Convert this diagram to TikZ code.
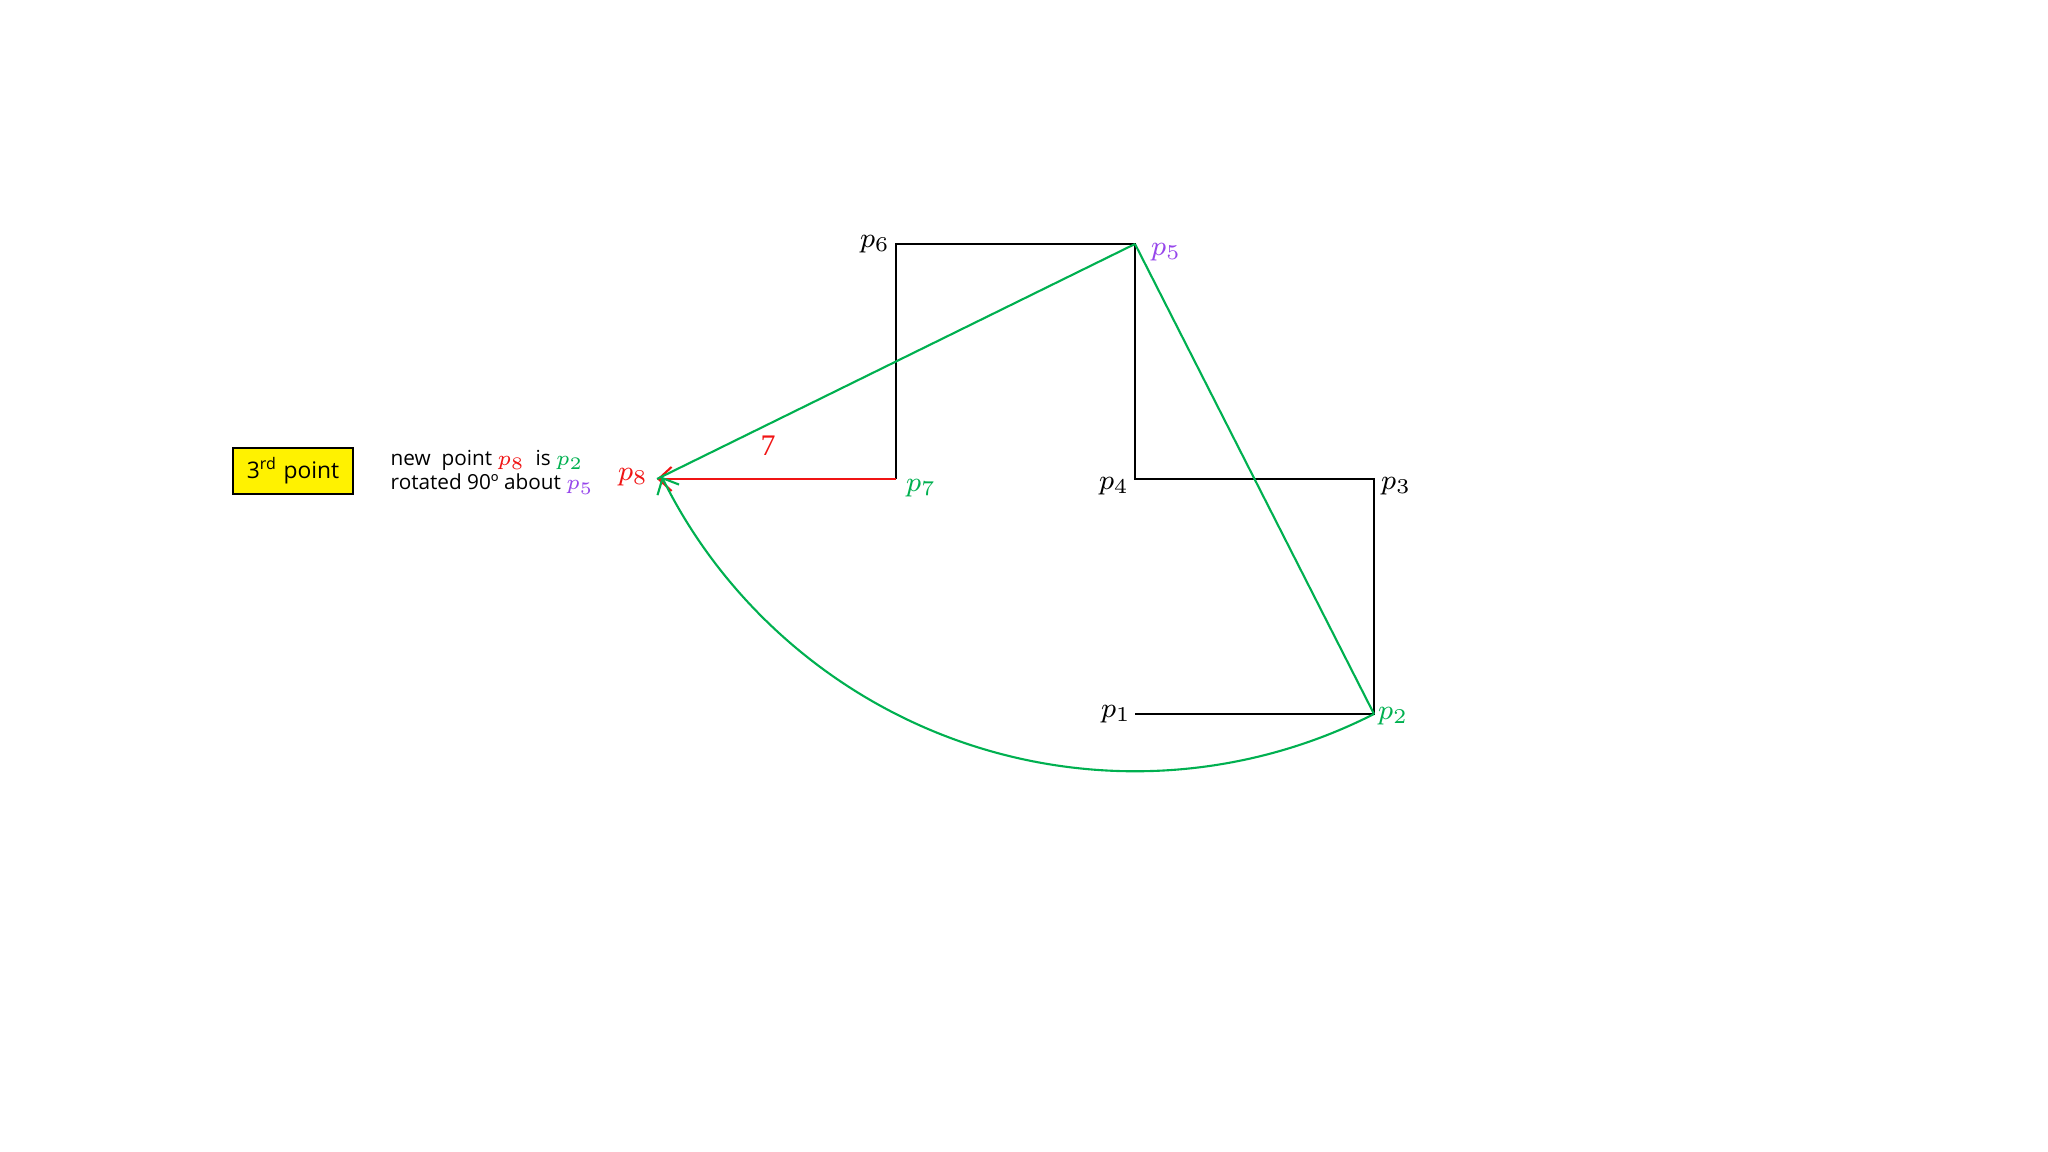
\documentclass[tikz,border=0pt]{standalone}
\usepackage{fontspec}
\setmainfont{Open Sans}
\newfontfamily\numfont{Liberation Serif}
\usepackage{amsmath}
\usepackage{xcolor}
\usetikzlibrary{arrows.meta}
\definecolor{pgreen}{RGB}{0,176,80}
\definecolor{ppurple}{RGB}{150,70,235}
\definecolor{pred}{RGB}{240,20,20}
\tikzset{
    plabel/.style = {inner sep=1pt, font=\fontsize{8}{9}\selectfont},
    poly/.style = {draw=black, line width=0.7pt},
    gline/.style = {draw=pgreen, line width=0.6pt},
    rline/.style = {draw=pred, line width=0.6pt},
    note/.style = {align=left, inner sep=0pt, font=\fontsize{5.9}{7.1}\selectfont},
    tag/.style = {draw=black, fill=yellow, line width=0.7pt, minimum width=1.2cm, minimum height=0.46cm, inner sep=0pt, font=\fontsize{6.5}{8}\selectfont}
}

\begin{document}
\begin{tikzpicture}
    [x=0.01cm, y=0.01cm,
    >={Straight Barb[length=1.3mm, width=2.4mm]}]

    \useasboundingbox (0,0) rectangle (2048,1152);

    % corners of the polygon
    \coordinate (p1) at (1135,438);
    \coordinate (p2) at (1374,438);
    \coordinate (p3) at (1374,673);
    \coordinate (p4) at (1135,673);
    \coordinate (p5) at (1135,908);
    \coordinate (p6) at (896,908);
    \coordinate (p7) at (896,673);
    \coordinate (p8) at (657,673);

    \draw [poly] (p1) -- (p2) -- (p3) -- (p4) -- (p5) -- (p6) -- (p7);
    \draw [rline, ->] (p7) -- (p8);
    \draw [gline] (p5) -- (p8);
    \draw [gline] (p5) -- (p2);
    \draw [gline, ->] (p2) arc [start angle=-63.04, end angle=-153.8, radius=527.3];

    % labels
    \node [plabel, anchor=east] (l1) at (p1) {$p_1$};
    \node [plabel, anchor=west, yshift=-0.02cm, text=pgreen] (l2) at (p2) {$p_2$};
    \node [plabel, anchor=west, xshift=0.03cm, yshift=-0.07cm] (l3) at (p3) {$p_3$};
    \node [plabel, anchor=east, xshift=-0.02cm, yshift=-0.07cm] (l4) at (p4) {$p_4$};
    \node [plabel, anchor=west, xshift=0.12cm, yshift=-0.08cm, text=ppurple] (l5) at (p5) {$p_5$};
    \node [plabel, anchor=east, xshift=-0.02cm] (l6) at (p6) {$p_6$};
    \node [plabel, anchor=west, xshift=0.06cm, yshift=-0.09cm, text=pgreen] (l7) at (p7) {$p_7$};
    \node [plabel, anchor=east, xshift=-0.05cm, yshift=0.02cm, text=pred] (l8) at (p8) {$p_8$};
    \node [plabel, text=pred, font=\numfont\fontsize{8.5}{9}\selectfont] (len) at (768,706) {7};

    \node [tag] (step3) at (293,681) {3\textsuperscript{rd} point};
    \node [note, anchor=base west] (txt) at (390,662)
        {new~ point \textcolor{pred}{$p_8$} ~is \textcolor{pgreen}{$p_2$}\\
         rotated 90º about \textcolor{ppurple}{$p_5$}};
\end{tikzpicture}
\end{document}
